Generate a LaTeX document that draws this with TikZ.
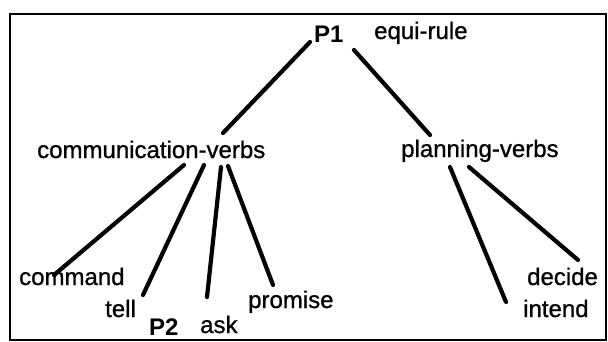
\documentclass[tikz,border=0pt]{standalone}
\usepackage{fontspec}
\setmainfont{Liberation Sans}
\newfontfamily\heavyfont[FakeBold=0.9]{Liberation Sans}
\usepackage{tikz}

\begin{document}
\begin{tikzpicture}[x=1pt, y=-1pt,
    word/.style={anchor=base west, inner sep=0pt, font=\heavyfont\fontsize{24}{28}\selectfont},
    rulelabel/.style={word, font=\fontsize{24}{28}\selectfont\bfseries},
    branch/.style={line width=4.2pt, line cap=round, draw=black}
]
    \useasboundingbox (0,0) rectangle (608,341);
    \draw[line width=1.8pt] (10,14) rectangle (606,340);

    % Level 1 - Root
    \node[rulelabel] (p1) at (314,42) {P1};
    \node[word] (equi) at (374,39) {equi-rule};

    % Level 2
    \node[word] (comm) at (37,158) {communication-verbs};
    \node[word] (plan) at (401,157) {planning-verbs};

    % Level 3
    \node[word] (command) at (19,285) {command};
    \node[word] (tell) at (105,317) {tell};
    \node[rulelabel] (p2) at (149,335) {P2};
    \node[word] (ask) at (200,333) {ask};
    \node[word] (promise) at (248,308) {promise};
    \node[word] (decide) at (527,285) {decide};
    \node[word] (intend) at (523,317) {intend};

    % Connections
    \draw[branch] ([shift={(-4,0)}]p1.base west) -- ([shift={(186,-25)}]comm.base west);
    \draw[branch] ([shift={(40,8)}]p1.base west) -- ([shift={(29,-22)}]plan.base west);
    \draw[branch] ([shift={(147,7)}]comm.base west) -- ([shift={(35,-10)}]command.base west);
    \draw[branch] ([shift={(167,7)}]comm.base west) -- ([shift={(38,-22)}]tell.base west);
    \draw[branch] ([shift={(184,9)}]comm.base west) -- ([shift={(7,-36)}]ask.base west);
    \draw[branch] ([shift={(191,8)}]comm.base west) -- ([shift={(25,-23)}]promise.base west);
    \draw[branch] ([shift={(49,10)}]plan.base west) -- ([shift={(-17,-15)}]intend.base west);
    \draw[branch] ([shift={(68,10)}]plan.base west) -- ([shift={(51,-25)}]decide.base west);
\end{tikzpicture}
\end{document}
